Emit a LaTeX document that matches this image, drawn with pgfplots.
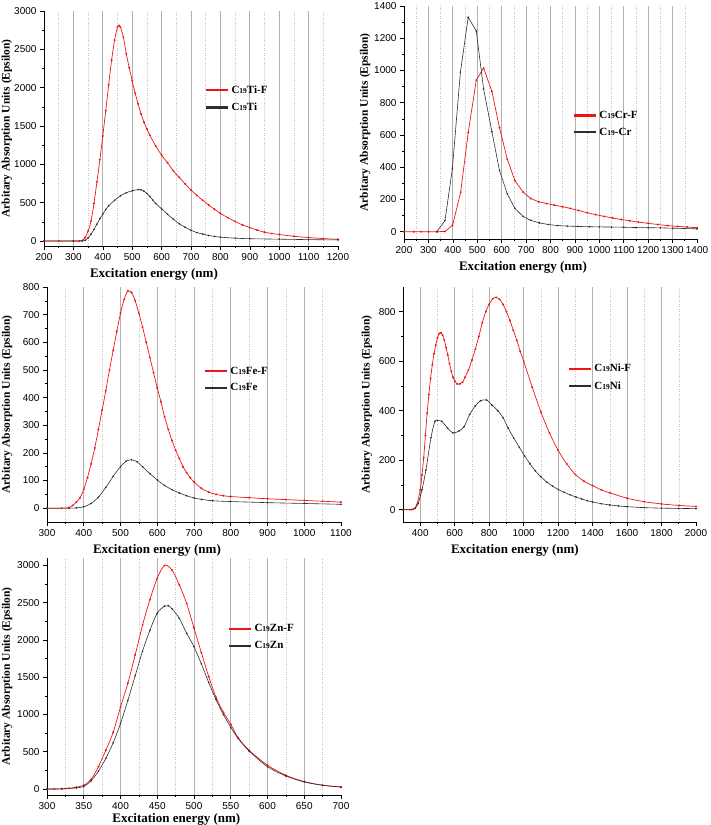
\documentclass[border=0pt]{standalone}
\usepackage{fontspec}
\setmainfont{Liberation Serif}
\setsansfont{Liberation Sans}
\usepackage{pgfplots}
\pgfplotsset{compat=1.18}
\definecolor{cRed}{HTML}{F01414}
\definecolor{cBlk}{HTML}{2E2E2E}
\definecolor{gMaj}{HTML}{B0B0B0}
\definecolor{gMin}{HTML}{C4C4C4}
\newcommand{\sub}[1]{{\fontsize{7.5}{8}\selectfont #1}}
\pgfplotsset{
  panel/.style={
    scale only axis, axis lines*=left, tick align=outside,
    major tick length=4pt, minor tick length=2pt,
    tick style={black, line width=0.6pt},
    axis line style={black, line width=0.8pt},
    xmajorgrids, xminorgrids,
    major x grid style={draw=gMaj, line width=0.7pt, solid},
    minor x grid style={draw=gMin, line width=0.5pt, dotted},
    extra x tick style={grid=none},
    minor y tick num=1,
    tick label style={font=\sffamily\fontsize{10}{12}\selectfont},
    /pgf/number format/assume math mode=true,
    /pgf/number format/1000 sep={},
    xlabel={Excitation energy (nm)},
    ylabel={Arbitary Absorption Units (Epsilon)},
    xlabel style={font=\bfseries\fontsize{13}{14}\selectfont, inner sep=1pt, yshift=5pt},
    ylabel style={font=\bfseries\fontsize{11.5}{13}\selectfont, inner sep=0pt, anchor=center},
    legend style={draw=none, fill=none, font=\bfseries\fontsize{11}{13}\selectfont,
      row sep=4pt, inner sep=0pt, anchor=west},
    legend cell align=left,
    legend image code/.code={\draw[##1, mark=none, solid, line width=2.2pt] (0pt,0pt) -- (22pt,0pt);},
  },
  rs/.style={color=cRed, line width=0.7pt, mark=*, mark size=0.6pt},
  bs/.style={color=cBlk, line width=0.6pt, mark=*, mark size=0.5pt},
}
\begin{document}
\begin{tikzpicture}
\path[use as bounding box] (0,0) rectangle (710pt,825pt);

% Ti
\begin{axis}[panel, at={(44pt,579pt)}, anchor=south west, width=294pt, height=235pt,
  xmin=200, xmax=1200, ymin=-65, ymax=3000,
  xtick={300,400,...,1100}, extra x ticks={200,1200},
  minor xtick={250,350,...,1150},
  ytick={0,500,...,3000},
  xlabel style={at={(ticklabel cs:0.374)}},
  ylabel style={at={(axis description cs:-0.126,0.5)}},
  legend style={at={(0.548,0.626)}}]
\addplot[rs, smooth] coordinates {(200,0)(250,0)(300,0)(320,0)(330,8)(340,45)(350,130)(360,260)(370,490)(380,770)(390,1060)(400,1370)(410,1700)(420,2040)(430,2360)(440,2620)(450,2790)(455,2810)(460,2790)(470,2660)(480,2440)(490,2260)(500,2090)(510,1930)(520,1790)(530,1660)(540,1550)(550,1460)(560,1380)(580,1240)(600,1120)(620,1020)(640,915)(660,830)(680,745)(700,665)(720,595)(740,530)(760,470)(780,415)(800,360)(825,305)(850,255)(875,210)(900,175)(925,142)(950,115)(975,98)(1000,85)(1050,62)(1100,45)(1150,32)(1200,22)};
\addlegendentry{C\sub{19}Ti-F}
\addplot[bs, smooth] coordinates {(200,0)(300,0)(330,0)(340,10)(350,40)(360,90)(370,150)(380,220)(390,290)(400,350)(410,410)(420,460)(440,530)(460,590)(480,630)(500,655)(520,670)(530,668)(540,650)(550,620)(560,580)(570,535)(580,490)(600,420)(620,350)(640,285)(660,225)(680,180)(700,140)(720,110)(740,90)(760,72)(780,60)(800,50)(850,37)(900,30)(1000,24)(1100,18)(1200,14)};
\addlegendentry{C\sub{19}Ti}
\end{axis}

% Cr
\begin{axis}[panel, at={(404pt,586pt)}, anchor=south west, width=293pt, height=233pt,
  xmin=200, xmax=1400, ymin=-45, ymax=1400,
  xtick={300,400,...,1300}, extra x ticks={200,1400},
  minor xtick={250,350,...,1350},
  ytick={0,200,...,1400},
  xlabel style={at={(ticklabel cs:0.406)}},
  ylabel style={at={(axis description cs:-0.133,0.5)}},
  legend style={at={(0.577,0.494)}}]
\addplot[rs] coordinates {(200,0)(240,0)(270,0)(300,0)(335,0)(368,2)(399,40)(432,245)(463,615)(496,940)(526,1015)(560,870)(591,645)(623,450)(654,318)(688,245)(719,206)(752,186)(784,175)(815,165)(850,155)(880,145)(915,132)(950,118)(985,106)(1020,95)(1055,85)(1090,76)(1125,68)(1160,60)(1200,52)(1240,45)(1280,38)(1320,33)(1360,29)(1400,25)};
\addlegendentry{C\sub{19}Cr-F}
\addplot[bs] coordinates {(334,0)(368,70)(398,390)(431,990)(463,1330)(496,1245)(526,885)(560,620)(591,380)(623,235)(654,145)(688,95)(720,70)(755,55)(790,45)(830,38)(870,35)(910,33)(960,31)(1000,30)(1050,29)(1100,28)(1150,26)(1200,25)(1250,24)(1300,22)(1350,20)(1400,18)};
\addlegendentry{C\sub{19}-Cr}
\end{axis}

% Fe
\begin{axis}[panel, at={(47pt,303pt)}, anchor=south west, width=294pt, height=235pt,
  xmin=300, xmax=1100, ymin=-50, ymax=800,
  xtick={400,500,...,1000}, extra x ticks={300,1100},
  minor xtick={350,450,...,1050},
  ytick={0,100,...,800},
  xlabel style={at={(ticklabel cs:0.374)}},
  ylabel style={at={(axis description cs:-0.136,0.5)}},
  legend style={at={(0.534,0.606)}}]
\addplot[rs, smooth] coordinates {(300,0)(340,0)(360,2)(370,10)(380,22)(390,38)(400,68)(410,110)(420,160)(430,218)(440,285)(450,355)(460,425)(470,500)(480,570)(490,640)(500,705)(510,755)(520,785)(530,780)(540,750)(550,705)(560,655)(570,600)(580,545)(590,490)(600,435)(610,385)(620,330)(630,285)(640,245)(650,210)(660,180)(670,150)(680,128)(690,110)(700,95)(720,72)(740,58)(760,50)(780,45)(800,42)(850,38)(900,34)(950,31)(1000,28)(1050,25)(1100,22)};
\addlegendentry{C\sub{19}Fe-F}
\addplot[bs, smooth] coordinates {(300,0)(360,0)(380,1)(400,5)(420,17)(440,40)(460,75)(480,115)(500,150)(515,170)(530,175)(545,168)(560,150)(580,125)(600,102)(620,82)(640,67)(660,55)(680,45)(700,37)(720,32)(750,27)(800,24)(900,20)(1000,17)(1100,14)};
\addlegendentry{C\sub{19}Fe}
\end{axis}

% Ni
\begin{axis}[panel, at={(403pt,303pt)}, anchor=south west, width=293pt, height=235pt,
  xmin=300, xmax=2000, ymin=-50, ymax=900,
  xtick={400,600,...,1800}, extra x ticks={2000},
  minor xtick={500,700,...,1900},
  ytick={0,200,...,800},
  xlabel style={at={(ticklabel cs:0.382)}},
  ylabel style={at={(axis description cs:-0.123,0.5)}},
  legend style={at={(0.563,0.615)}}]
\addplot[rs, smooth] coordinates {(300,0)(340,0)(360,2)(380,20)(400,80)(410,140)(420,210)(430,300)(440,390)(450,465)(460,530)(470,585)(480,630)(490,665)(500,695)(510,712)(520,715)(530,705)(540,685)(550,655)(560,625)(570,590)(580,560)(590,535)(600,520)(615,508)(630,508)(645,515)(660,535)(680,565)(700,605)(720,650)(740,700)(760,755)(780,800)(800,830)(820,852)(840,858)(860,850)(880,830)(900,800)(920,765)(940,725)(960,685)(980,640)(1000,600)(1050,495)(1100,395)(1150,310)(1200,240)(1250,185)(1300,142)(1350,115)(1400,97)(1450,80)(1500,68)(1600,46)(1700,32)(1800,23)(1900,17)(2000,13)};
\addlegendentry{C\sub{19}Ni-F}
\addplot[bs, smooth] coordinates {(300,0)(350,0)(370,5)(388,25)(410,80)(433,160)(462,290)(485,357)(500,360)(525,357)(558,330)(590,310)(625,318)(654,335)(687,385)(720,420)(750,440)(785,443)(817,422)(850,400)(881,371)(910,330)(942,290)(975,252)(1006,217)(1037,185)(1067,157)(1100,133)(1135,111)(1168,95)(1202,81)(1235,70)(1269,60)(1303,51)(1337,43)(1370,36)(1400,31)(1450,24)(1500,19)(1550,15)(1600,12)(1700,8)(1800,6)(1900,5)(2000,4)};
\addlegendentry{C\sub{19}Ni}
\end{axis}

% Zn
\begin{axis}[panel, at={(47pt,30pt)}, anchor=south west, width=294pt, height=237pt,
  xmin=300, xmax=700, ymin=-80, ymax=3100,
  xtick={350,400,...,650}, extra x ticks={300,700},
  minor xtick={325,375,...,675},
  ytick={0,500,...,3000},
  xlabel style={at={(ticklabel cs:0.44)}, yshift=4pt},
  ylabel style={at={(axis description cs:-0.136,0.5)}},
  legend style={at={(0.616,0.665)}}]
\addplot[rs, smooth] coordinates {(300,0)(310,1)(320,3)(330,10)(340,25)(350,50)(360,130)(370,300)(380,520)(390,760)(400,1100)(410,1420)(420,1800)(430,2200)(440,2540)(450,2830)(460,3000)(470,2940)(480,2740)(490,2490)(500,2160)(510,1830)(520,1510)(530,1230)(540,1030)(550,870)(560,690)(575,520)(600,320)(625,185)(650,100)(675,52)(700,28)};
\addlegendentry{C\sub{19}Zn-F}
\addplot[bs, smooth] coordinates {(300,0)(320,2)(340,15)(350,36)(360,110)(370,240)(380,410)(390,620)(400,880)(410,1190)(420,1520)(430,1850)(440,2130)(450,2360)(460,2455)(465,2460)(470,2420)(480,2290)(490,2090)(500,1910)(510,1680)(520,1430)(530,1200)(540,1000)(550,830)(560,680)(575,510)(600,300)(625,175)(650,95)(675,50)(700,26)};
\addlegendentry{C\sub{19}Zn}
\end{axis}
\end{tikzpicture}
\end{document}
